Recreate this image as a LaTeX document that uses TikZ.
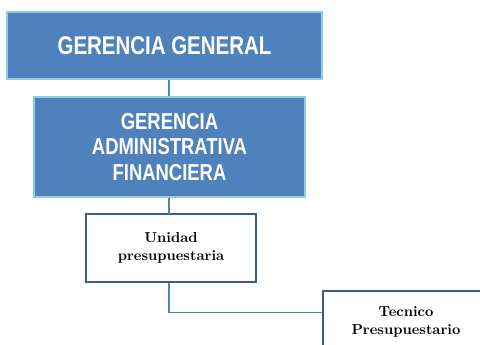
\documentclass[tikz,border=0pt]{standalone}
\usepackage{fontspec}
\newfontfamily\headfont[FakeStretch=0.8]{Liberation Sans}
\definecolor{azul}{HTML}{4F81BD}
\definecolor{azulclaro}{HTML}{93CDDD}
\definecolor{azuloscuro}{HTML}{385D8A}

\begin{document}
\begin{tikzpicture}[
    jefe/.style={draw=azulclaro, line width=1.4pt, fill=azul, text=white, align=center,
        font=\headfont\bfseries\fontsize{16.4}{18.4}\selectfont},
    puesto/.style={draw=azuloscuro, line width=1pt, fill=white, align=center,
        font=\bfseries\fontsize{10.3}{12.8}\selectfont},
    linea/.style={azul, line width=0.8pt}]
    \useasboundingbox (0,0) rectangle (12,-8.625);

    % Direccion
    \node[jefe, minimum width=7.875cm, minimum height=1.675cm,
        font=\headfont\bfseries\fontsize{18.2}{18.4}\selectfont] (general) at (4.1125,-1.1375) {GERENCIA GENERAL};
    \node[jefe, minimum width=6.775cm, minimum height=2.5cm] (admin) at (4.2375,-3.675)
        {GERENCIA\\ADMINISTRATIVA\\FINANCIERA};

    % Unidades
    \node[puesto, minimum width=4.25cm, minimum height=1.7cm] (unidad) at (4.275,-6.2) {Unidad\\presupuestaria};
    \node[puesto, minimum width=4.15cm, minimum height=1.55cm] (tecnico) at (10.15,-8.05) {Tecnico\\Presupuestario};

    % Conectores
    \coordinate (bajada) at (4.225,-5.35);
    \draw[linea] (admin.north -| bajada) -- (general.south -| bajada);
    \draw[linea] (bajada |- admin.south) -- (bajada);
    \draw[linea] (bajada |- unidad.south) |- ([yshift=-0.55cm]tecnico.north west);
\end{tikzpicture}
\end{document}
